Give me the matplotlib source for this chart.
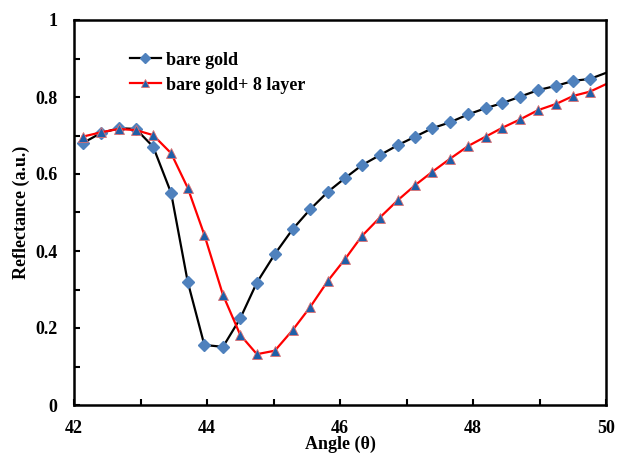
import matplotlib
matplotlib.use("Agg")
import matplotlib.pyplot as plt
from matplotlib.ticker import MultipleLocator, FuncFormatter

# angles (deg) of the measured points
angle = [42.13, 42.40, 42.67, 42.93, 43.19, 43.46, 43.71, 43.96, 44.24, 44.50,
         44.75, 45.02, 45.29, 45.55, 45.82, 46.08, 46.33, 46.60, 46.87, 47.13,
         47.39, 47.65, 47.93, 48.19, 48.44, 48.71, 48.98, 49.25, 49.51, 49.76,
         50.02]

bare_gold = [0.680, 0.706, 0.719, 0.717, 0.671, 0.551, 0.320, 0.156, 0.151, 0.225,
             0.318, 0.392, 0.457, 0.508, 0.554, 0.590, 0.623, 0.649, 0.675, 0.697,
             0.719, 0.734, 0.755, 0.771, 0.784, 0.801, 0.818, 0.829, 0.842, 0.847,
             0.864]

gold_8_layer = [0.697, 0.708, 0.717, 0.714, 0.701, 0.654, 0.564, 0.442, 0.286, 0.182,
                0.132, 0.141, 0.195, 0.254, 0.323, 0.380, 0.439, 0.487, 0.532, 0.571,
                0.606, 0.639, 0.673, 0.697, 0.720, 0.742, 0.766, 0.782, 0.803, 0.814,
                0.835]

plt.rcParams['font.family'] = ['Liberation Serif', 'DejaVu Serif']
plt.rcParams['font.weight'] = 'bold'

fig = plt.figure(figsize=(6.17, 4.54), dpi=100)
ax = fig.add_axes([74 / 617, 1 - 405 / 454, 532 / 617, 385 / 454])

# last point lies just past 50, only the line reaches the frame
marks = slice(0, len(angle) - 1)
ax.plot(angle, bare_gold, color='black', lw=1.6, marker='D', markersize=6,
        markevery=marks, markerfacecolor='#4F81BD', markeredgecolor='#4F81BD',
        label='bare gold')
ax.plot(angle, gold_8_layer, color='#FF0000', lw=1.6, marker='^', markersize=7.5,
        markevery=marks, markerfacecolor='#1F5FA8', markeredgecolor='#E07070',
        markeredgewidth=0.6, label='bare gold+ 8 layer')

ax.set_xlim(42, 50)
ax.set_ylim(0, 1)
ax.xaxis.set_major_locator(MultipleLocator(2))
ax.xaxis.set_minor_locator(MultipleLocator(1))
ax.yaxis.set_major_locator(MultipleLocator(0.2))
ax.yaxis.set_minor_locator(MultipleLocator(0.1))
ax.yaxis.set_major_formatter(FuncFormatter(lambda v, p: f"{v:g}"))
ax.tick_params(which='both', direction='in', width=1.5, labelsize=13)
ax.tick_params(which='major', length=4)
ax.tick_params(which='minor', length=4)
ax.tick_params(axis='x', which='major', pad=11)
ax.tick_params(axis='y', which='major', pad=12)
for s in ax.spines.values():
    s.set_linewidth(1.8)

ax.set_xlabel('Angle (θ)', fontsize=13, fontweight='bold', labelpad=-1)
ax.set_ylabel('Reflectance (a.u.)', fontsize=13, fontweight='bold', labelpad=4)

ax.legend(loc='upper left', bbox_to_anchor=(0.075, 0.96), frameon=False,
          fontsize=13, handlelength=1.7, handletextpad=0.3, labelspacing=0.45,
          markerscale=0.8)

fig.savefig('out.png', dpi=100)
